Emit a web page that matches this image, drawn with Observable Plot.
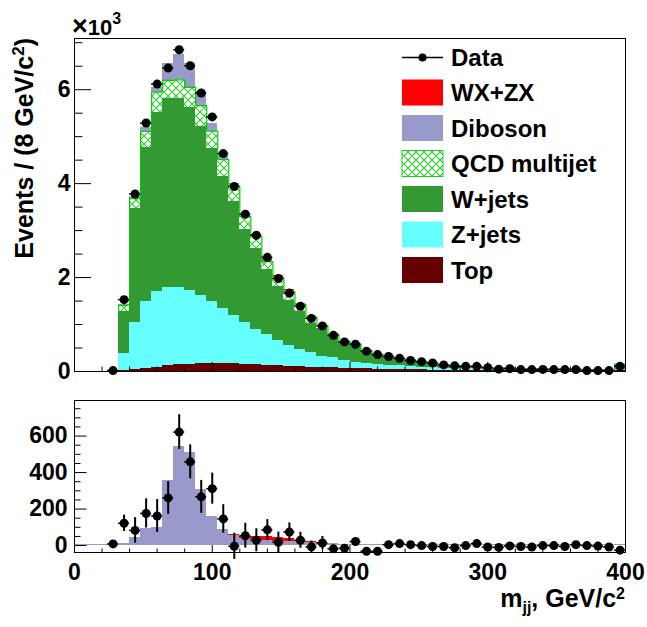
<!DOCTYPE html>
<html>
<head>
<meta charset="utf-8">
<script src="https://cdn.jsdelivr.net/npm/d3@7"></script>
<script src="https://cdn.jsdelivr.net/npm/@observablehq/plot@0.6"></script>
<style>
  body { margin: 0; background: #fff; }
  #wrap { position: relative; width: 647px; height: 627px; overflow: hidden; background: #fff; }
  #wrap svg text { font-weight: bold; }
  .panel { position: absolute; left: 0; }
  #overlay { position: absolute; left: 0; top: 0; pointer-events: none; }
</style>
</head>
<body>
<div id="wrap"></div>
<script>
// ---------------- data ----------------
const binLow = d3.range(0, 400, 8);           // lower bin edges, GeV/c^2 (8 GeV bins)
const binWidth = 8;

// Top panel components, in units of 10^3 events
const topQuark = [0,0,0,0.003,0.015,0.035,0.06,0.09,0.12,0.14,
  0.155,0.165,0.17,0.17,0.165,0.155,0.145,0.135,0.125,0.115,
  0.10,0.09,0.08,0.075,0.07,0.06,0.055,0.05,0.045,0.04,
  0.035,0.032,0.03,0.027,0.025,0.022,0.02,0.018,0.016,0.015,
  0.013,0.012,0.011,0.01,0.009,0.008,0.007,0.007,0.006,0.02];
const zJets = [0,0,0,0.004,0.365,1.015,1.42,1.61,1.67,1.65,
  1.575,1.455,1.33,1.18,1.035,0.885,0.755,0.645,0.535,0.445,
  0.37,0.31,0.25,0.215,0.165,0.14,0.105,0.10,0.085,0.08,
  0.065,0.058,0.05,0.043,0.04,0.038,0.035,0.032,0.029,0.025,
  0.025,0.023,0.021,0.02,0.019,0.018,0.017,0.015,0.014,0.03];
const wJets = [0,0,0,0.005,0.89,2.41,3.28,3.81,4.02,4.02,
  3.90,3.60,3.24,2.80,2.42,1.99,1.72,1.39,1.16,0.96,
  0.81,0.63,0.58,0.47,0.375,0.36,0.27,0.20,0.18,0.15,
  0.13,0.105,0.09,0.065,0.05,0.04,0.045,0.025,0.015,0.02,
  0.01,0.012,0.014,0.01,0.012,0.014,0.008,0.008,0.005,0.10];
const qcdMultijet = [0,0,0,0,0.14,0.22,0.35,0.44,0.39,0.40,
  0.42,0.44,0.38,0.36,0.33,0.27,0.25,0.17,0.18,0.18,
  0.15,0.13,0.06,0.03,0.03,0.02,0.02,0.01,0.01,0.01,
  0.01,0.01,0.01,0.01,0.01,0.01,0.01,0.01,0.01,0.01,
  0.01,0.01,0.01,0.01,0.01,0.01,0.01,0.01,0.01,0.01];
// Diboson and WX+ZX, in events (also shown in the lower panel)
const diboson = [8,8,8,8,14,45,92,100,357,542,
  510,306,159,86,55,36,32,29,25,22,
  20,16,13,11,8,7,7,7,6,6,
  6,6,6,6,5,5,5,5,5,5,
  5,5,5,5,5,5,5,5,5,5];
const wxzx = [0,0,0,0,0,0,0,0,0,0,
  0,0,0,0,5,15,20,20,18,14,
  8,4,2,1,0,0,0,0,0,0,
  0,0,0,0,0,0,0,0,0,0,
  0,0,0,0,0,0,0,0,0,0];

// Data, top panel (10^3 events)
const dataTop = [null,null,null,0.02,1.53,3.78,5.29,6.12,6.46,6.85,
  6.51,5.93,5.42,4.64,3.94,3.35,2.90,2.43,1.98,1.67,
  1.39,1.13,0.97,0.77,0.63,0.58,0.43,0.36,0.32,0.28,
  0.235,0.21,0.18,0.14,0.12,0.11,0.11,0.08,0.05,0.06,
  0.04,0.04,0.045,0.04,0.04,0.04,0.02,0.02,0.02,0.11];
// Data minus other backgrounds, lower panel (events) and its errors
const dataDiff = [null,null,null,9,122,83,176,162,261,622,
  459,267,312,146,-4,54,29,86,18,74,
  29,-7,14,-18,-15,22,-31,-31,5,11,
  5,0,-5,-5,-12,0,11,-8,-10,-2,
  -5,-8,0,0,-5,5,0,-3,-8,-25];
const dataDiffErr = [null,null,null,8,45,70,80,90,90,95,
  93,90,85,78,72,68,63,56,56,50,
  44,32,36,18,15,14,12,12,11,11,
  10,10,9,9,8,8,8,7,7,7,
  6,6,6,6,6,6,5,5,5,8];

// axis ticks
const xMajor = [0, 100, 200, 300, 400];
const xMinor = [20,40,60,80,120,140,160,180,220,240,260,280,320,340,360,380];
const yMajorTop = [0, 2, 4, 6];
const yMinorTop = [0.5,1,1.5,2.5,3,3.5,4.5,5,5.5,6.5,7];
const yMajorBot = [0, 200, 400, 600];
const yMinorBot = [50,100,150,250,300,350,450,500,550,650,700,750];

// legend
const legendLabels = ["Data","WX+ZX","Diboson","QCD multijet","W+jets","Z+jets","Top"];
const legendFills  = [null,"#ff0000","#9999cc","url(#qcdHatch)","#339933","#66ffff","#660000"];

// ---------------- build ----------------
const W = 647;
const fontFamily = '"Liberation Sans", Arial, Helvetica, sans-serif';
const wrap = document.getElementById("wrap");

const comps = [
  {name: "Top", vals: topQuark, fill: "#660000"},
  {name: "Z+jets", vals: zJets, fill: "#66ffff"},
  {name: "W+jets", vals: wJets, fill: "#339933"},
  {name: "QCD multijet", vals: qcdMultijet, fill: "url(#qcdHatch)"},
  {name: "Diboson", vals: diboson.map(v => v / 1000), fill: "#9999cc"},
  {name: "WX+ZX", vals: wxzx.map(v => v / 1000), fill: "#ff0000"}
];
const cum = binLow.map(() => 0);
const stackRows = [];
for (const c of comps) {
  binLow.forEach((lo, i) => {
    const y1 = cum[i], y2 = cum[i] + c.vals[i];
    stackRows.push({comp: c.name, lo, hi: lo + binWidth, y1, y2});
    cum[i] = y2;
  });
}
const qcdRows = stackRows.filter(r => r.comp === "QCD multijet");
const qcdOutline = [];
qcdRows.forEach((r, i) => { if (i >= 4) qcdOutline.push({x: r.lo, y: r.y2}); });
qcdOutline.unshift({x: qcdRows[4].lo, y: qcdRows[4].y1});
qcdOutline.push({x: 400, y: qcdRows[49].y2});

const ptsTop = binLow.map((lo, i) => ({lo, hi: lo + binWidth, c: lo + binWidth / 2, v: dataTop[i]}))
  .filter(d => d.v !== null);
const ptsBot = binLow.map((lo, i) => ({lo, hi: lo + binWidth, c: lo + binWidth / 2, v: dataDiff[i], e: dataDiffErr[i]}))
  .filter(d => d.v !== null);
const botRows = binLow.map((lo, i) => ({lo, hi: lo + binWidth, dib: diboson[i], tot: diboson[i] + wxzx[i]}));

const style = {fontFamily, fontSize: "23px", fontWeight: "bold", color: "#000", background: "transparent", overflow: "visible"};
const blank = () => "";

const topPlot = Plot.plot({
  width: W, height: 390,
  marginLeft: 74, marginRight: 22, marginTop: 38, marginBottom: 19,
  x: {domain: [0, 400]},
  y: {domain: [0, 7.09]},
  style,
  marks: [
    ...comps.map(c => Plot.rect(stackRows.filter(r => r.comp === c.name),
      {x1: "lo", x2: "hi", y1: "y1", y2: "y2", fill: c.fill, shapeRendering: "crispEdges"})),
    Plot.line(qcdOutline, {x: "x", y: "y", curve: "step-after", stroke: "#00cc00", strokeWidth: 1.2}),
    Plot.ruleY(ptsTop, {y: "v", x1: "lo", x2: "hi", stroke: "#000", strokeWidth: 1.5}),
    Plot.dot(ptsTop, {x: "c", y: "v", r: 4.5, fill: "#000"}),
    Plot.axisY({ticks: yMajorTop, tickSize: 0, tickPadding: 4, tickFormat: d => String(d), label: null}),
    Plot.axisY({ticks: yMajorTop, tickSize: -17, tickFormat: blank, label: null}),
    Plot.axisY({ticks: yMinorTop, tickSize: -8.5, tickFormat: blank, label: null}),
    Plot.axisX({ticks: xMajor, tickSize: -9, tickFormat: blank, label: null}),
    Plot.axisX({ticks: xMinor, tickSize: -4.5, tickFormat: blank, label: null}),
    Plot.frame({stroke: "#000", strokeWidth: 1})
  ]
});
topPlot.classList.add("panel");
topPlot.style.top = "0px";
wrap.appendChild(topPlot);

const botPlot = Plot.plot({
  width: W, height: 237,
  marginLeft: 74, marginRight: 22, marginTop: 10, marginBottom: 75,
  x: {domain: [0, 400]},
  y: {domain: [-38, 795]},
  style,
  marks: [
    Plot.rect(botRows, {x1: "lo", x2: "hi", y1: 0, y2: "dib", fill: "#9999cc", shapeRendering: "crispEdges"}),
    Plot.rect(botRows, {x1: "lo", x2: "hi", y1: "dib", y2: "tot", fill: "#ff0000", shapeRendering: "crispEdges"}),
    Plot.ruleX(ptsBot, {x: "c", y1: d => d.v - d.e, y2: d => d.v + d.e, stroke: "#000", strokeWidth: 2}),
    Plot.ruleY(ptsBot, {y: "v", x1: "lo", x2: "hi", stroke: "#000", strokeWidth: 1.5}),
    Plot.dot(ptsBot, {x: "c", y: "v", r: 4.5, fill: "#000"}),
    Plot.axisY({ticks: yMajorBot, tickSize: 0, tickPadding: 7, tickFormat: d => String(d), label: null}),
    Plot.axisY({ticks: yMajorBot, tickSize: -12.5, tickFormat: blank, label: null}),
    Plot.axisY({ticks: yMinorBot, tickSize: -6.5, tickFormat: blank, label: null}),
    Plot.axisX({ticks: xMajor, tickSize: 0, tickPadding: 11, tickFormat: d => String(d), label: null}),
    Plot.axisX({ticks: xMajor, tickSize: -7, tickFormat: blank, label: null}),
    Plot.axisX({ticks: xMinor, tickSize: -3.5, tickFormat: blank, label: null}),
    Plot.frame({stroke: "#000", strokeWidth: 1})
  ]
});
botPlot.classList.add("panel");
botPlot.style.top = "390px";
wrap.appendChild(botPlot);

// ---------------- overlay: pattern, titles, legend ----------------
const svg = d3.select(wrap).append("svg")
  .attr("id", "overlay").attr("width", W).attr("height", 627)
  .style("font-family", fontFamily).style("font-weight", "bold");

const pat = svg.append("defs").append("pattern")
  .attr("id", "qcdHatch").attr("patternUnits", "userSpaceOnUse")
  .attr("width", 8).attr("height", 8);
pat.append("rect").attr("width", 8).attr("height", 8).attr("fill", "#fff");
pat.append("path").attr("d", "M0,0L8,8M8,0L0,8M-1,7L1,9M7,-1L9,1M-1,1L1,-1M7,9L9,7")
  .attr("stroke", "#22cc22").attr("stroke-width", 1.1).attr("fill", "none");

// x10^3
const mult = svg.append("text").attr("x", 72).attr("y", 35).attr("font-size", 22);
mult.append("tspan").attr("font-size", 27).text("×");
mult.append("tspan").text("10");
mult.append("tspan").attr("dy", -11).attr("font-size", 16).text("3");

// y title
const yt = svg.append("text").attr("transform", "translate(33,38) rotate(-90)")
  .attr("text-anchor", "end").attr("font-size", 25);
yt.append("tspan").text("Events / (8 GeV/c");
yt.append("tspan").attr("dy", -9).attr("font-size", 17).text("2");
yt.append("tspan").attr("dy", 9).text(")");

// x title
const xt = svg.append("text").attr("x", 625).attr("y", 607)
  .attr("text-anchor", "end").attr("font-size", 25);
xt.append("tspan").text("m");
xt.append("tspan").attr("dy", 6).attr("font-size", 16).text("jj");
xt.append("tspan").attr("dy", -6).text(", GeV/c");
xt.append("tspan").attr("dy", -8).attr("font-size", 16).text("2");

// legend
const rowY = [57.5, 92.5, 128, 163.5, 199, 234.5, 270];
legendLabels.forEach((lab, i) => {
  const cy = rowY[i];
  if (legendFills[i] === null) {
    svg.append("line").attr("x1", 402).attr("x2", 443).attr("y1", cy).attr("y2", cy)
      .attr("stroke", "#000").attr("stroke-width", 1.5);
    svg.append("circle").attr("cx", 422.5).attr("cy", cy).attr("r", 4).attr("fill", "#000");
  } else {
    svg.append("rect").attr("x", 402).attr("y", cy - 13).attr("width", 41).attr("height", 26)
      .attr("fill", legendFills[i])
      .attr("stroke", legendFills[i].startsWith("url") ? "#22cc22" : "none").attr("stroke-width", 1);
  }
  svg.append("text").attr("x", 451).attr("y", cy + 8.5).attr("font-size", 24).text(lab);
});
</script>
</body>
</html>
